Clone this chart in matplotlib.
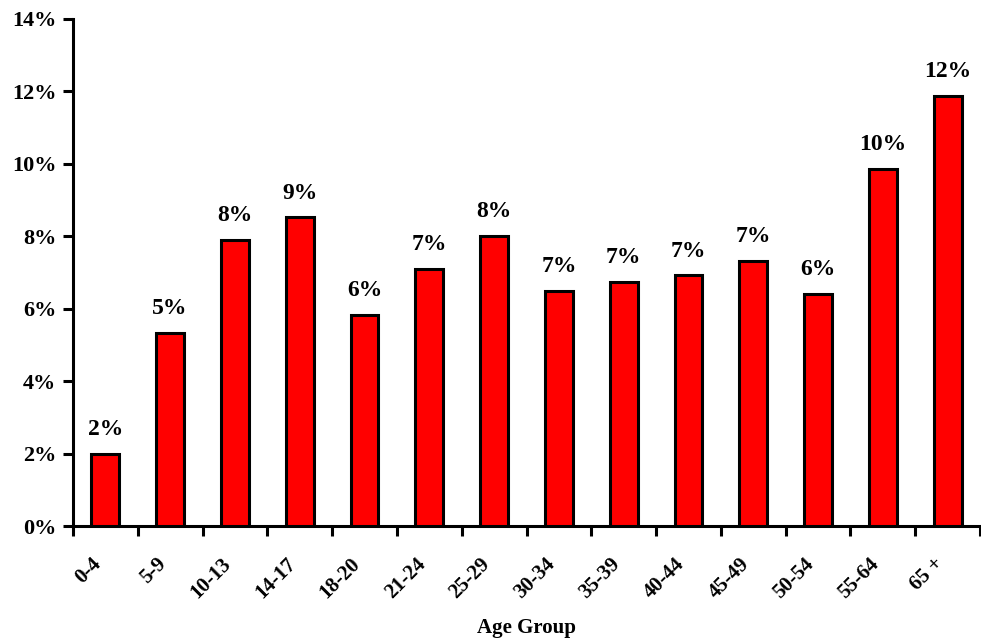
import matplotlib
matplotlib.use("Agg")
import matplotlib.pyplot as plt
from matplotlib.ticker import FuncFormatter, MultipleLocator
from matplotlib.transforms import ScaledTranslation

categories = ["0-4", "5-9", "10-13", "14-17", "18-20", "21-24", "25-29",
              "30-34", "35-39", "40-44", "45-49", "50-54", "55-64", "65 +"]
values = [2.0, 5.34, 7.91, 8.52, 5.84, 7.11, 8.02, 6.50, 6.75, 6.92, 7.33, 6.42, 9.85, 11.87]
bar_labels = ["2%", "5%", "8%", "9%", "6%", "7%", "8%", "7%", "7%", "7%", "7%", "6%", "10%", "12%"]

plt.rcParams['font.family'] = ['Liberation Serif', 'DejaVu Serif']
plt.rcParams['font.weight'] = 'bold'

fig = plt.figure(figsize=(9.81, 6.39), dpi=100)
ax = fig.add_axes([0.0744, 0.1768, 0.9246, 0.7935])

x = list(range(len(categories)))
ax.bar(x, values, width=0.43, color='#ff0000', edgecolor='black', linewidth=2.2, zorder=3)

for xi, v, lab in zip(x, values, bar_labels):
    ax.annotate(lab, (xi, v), xytext=(0, 10), textcoords='offset points',
                ha='center', va='bottom', fontsize=17, fontweight='bold')

ax.set_xlim(-0.5, len(categories) - 0.5)
ax.set_ylim(0, 14)
ax.yaxis.set_major_locator(MultipleLocator(2))
ax.yaxis.set_major_formatter(FuncFormatter(lambda v, p: f"{v:.0f}%"))

ax.set_xticks([i - 0.5 for i in range(len(categories) + 1)], minor=False)
ax.set_xticklabels([])
ax.set_xticks(x, minor=True)
ax.set_xticklabels(categories, minor=True, rotation=45, ha='right', rotation_mode='anchor',
                   fontsize=15, fontweight='bold')
ax.tick_params(axis='x', which='minor', length=0, pad=20)
ax.tick_params(axis='x', which='major', length=7, width=2.2, direction='out')
ax.tick_params(axis='y', length=7, width=2.2, direction='out', labelsize=16, pad=5)
for lab in ax.get_yticklabels():
    lab.set_fontweight('bold')

shift = ScaledTranslation(-0.14, 0, fig.dpi_scale_trans)
for lab in ax.get_xticklabels(minor=True):
    lab.set_transform(lab.get_transform() + shift)

for s in ['top', 'right']:
    ax.spines[s].set_visible(False)
for s in ['left', 'bottom']:
    ax.spines[s].set_linewidth(2.2)

ax.set_xlabel("Age Group", fontsize=15, fontweight='bold', labelpad=11)

fig.savefig("out.png", dpi=100)
